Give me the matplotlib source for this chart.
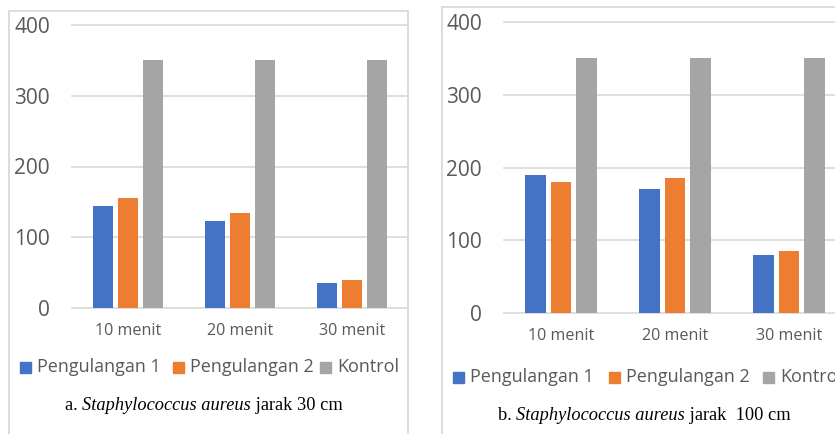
import numpy as np
import matplotlib.pyplot as plt
from matplotlib.patches import Rectangle

# Data: bacterial colony counts after UV exposure
times = ["10 menit", "20 menit", "30 menit"]
series = ["Pengulangan 1", "Pengulangan 2", "Kontrol"]
colors = ["#4472C4", "#ED7D31", "#A5A5A5"]

jarak30_p1 = [144, 123, 35]
jarak30_p2 = [156, 134, 40]
jarak30_kontrol = [350, 350, 350]

jarak100_p1 = [190, 170, 80]
jarak100_p2 = [180, 185, 85]
jarak100_kontrol = [350, 350, 350]

yticks = [0, 100, 200, 300, 400]

W, H = 835, 434
plt.rcParams['font.family'] = ['Open Sans', 'DejaVu Sans']
fig = plt.figure(figsize=(W / 100, H / 100), dpi=100)
fig.patch.set_facecolor('white')

txt_color = '#595959'
grid_color = '#d9d9d9'


def px_axes(left, top, right, bottom):
    return fig.add_axes([left / W, 1 - bottom / H, (right - left) / W, (bottom - top) / H])


def bar_panel(ax, values):
    x = np.arange(len(times))
    step, width = 0.225, 0.18
    for i, (vals, c) in enumerate(zip(values, colors)):
        ax.bar(x + (i - 1) * step, vals, width, color=c, zorder=2)
    for v in yticks:
        ax.axhline(v, color=grid_color, lw=1.2, zorder=0, clip_on=False)
    ax.set_xlim(-0.5, len(times) - 0.5)
    ax.set_ylim(0, 400)
    ax.set_yticks(yticks)
    ax.set_xticks(x)
    ax.set_xticklabels(times)
    for s in ax.spines.values():
        s.set_visible(False)
    ax.tick_params(axis='y', length=0, pad=16, labelsize=15, labelcolor=txt_color)
    ax.tick_params(axis='x', length=0, pad=11, labelsize=11.6, labelcolor=txt_color)
    ax.set_facecolor('none')


def legend_row(xs, yc):
    for x0, name, c in zip(xs, series, colors):
        fig.patches.append(Rectangle((x0 / W, 1 - (yc + 5.5) / H), 11 / W, 11 / H,
                                     transform=fig.transFigure, color=c))
        fig.text((x0 + 17) / W, 1 - yc / H, name, fontsize=13, color=txt_color,
                 va='center', ha='left')


def caption(xc, yc, parts):
    renderer = fig.canvas.get_renderer()
    items, total = [], 0
    for s, style in parts:
        t = fig.text(0, 1 - yc / H, s, fontsize=13.2, family='Liberation Serif',
                     style=style, va='center', ha='left')
        w = t.get_window_extent(renderer).width
        items.append((t, w))
        total += w
    x = xc - total / 2
    for t, w in items:
        t.set_x(x / W)
        x += w


# Panel a: 30 cm
ax1 = px_axes(72, 25, 408, 308)
bar_panel(ax1, [jarak30_p1, jarak30_p2, jarak30_kontrol])
fig.patches.append(Rectangle((9 / W, -0.1), 399 / W, 1 - 11 / H + 0.1,
                             transform=fig.transFigure, fill=False, ec=grid_color, lw=1.3))
legend_row([20, 173, 320], 367)
caption(204, 405, [("a. ", 'normal'), ("Staphylococcus aureus", 'italic'),
                   (" jarak 30 cm", 'normal')])

# Panel b: 100 cm
ax2 = px_axes(504, 22, 846, 313)
bar_panel(ax2, [jarak100_p1, jarak100_p2, jarak100_kontrol])
fig.patches.append(Rectangle((441.5 / W, -0.1), 1, 1 - 7 / H + 0.1,
                             transform=fig.transFigure, fill=False, ec=grid_color, lw=1.3))
legend_row([453, 609, 763], 377)
caption(644, 415, [("b. ", 'normal'), ("Staphylococcus aureus", 'italic'),
                   (" jarak  100 cm", 'normal')])

fig.savefig("out.png", dpi=100)
